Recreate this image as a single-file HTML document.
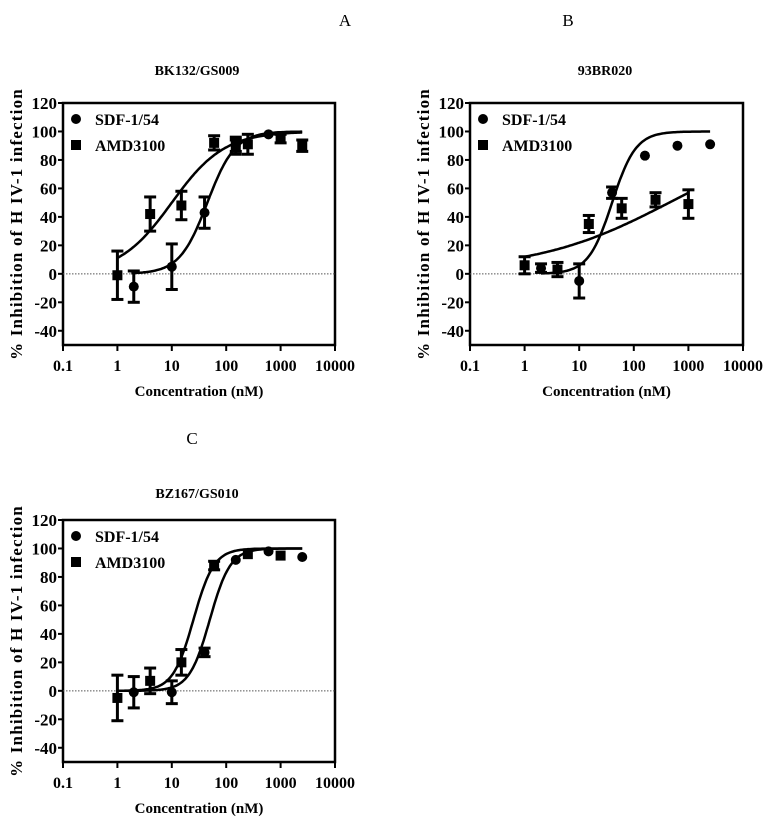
<!DOCTYPE html>
<html><head><meta charset="utf-8"><style>
body{margin:0;background:#fff}
svg text{font-family:"Liberation Serif",serif;fill:#000}
</style></head><body>
<svg id="fig" width="773" height="833" viewBox="0 0 773 833" xmlns="http://www.w3.org/2000/svg"></svg>
<script>
// Panel A
const aSdfX=[2,10,40,150,600];
const aSdfY=[-9,5,43,90,98];
const aSdfE=[11,16,11,4,2];
const aAmdX=[1,4,15,60,150,250,1000,2500];
const aAmdY=[-1,42,48,92,90,91,95,90];
const aAmdE=[17,12,10,5,6,7,3,4];
const aSdfFit=[0,100,45,1.7];
const aAmdFit=[0,100,10,0.9];
// Panel B
const bSdfX=[2,10,40,160,630,2500];
const bSdfY=[4,-5,57,83,90,91];
const bSdfE=[3,12,4,2,2,2];
const bAmdX=[1,4,15,60,250,1000];
const bAmdY=[6,3,35,46,52,49];
const bAmdE=[6,5,6,7,5,10];
const bSdfFit=[0,100,40,2];
const bAmdFit=[2,100,500,0.35];
// Panel C
const cSdfX=[2,10,40,150,600,2500];
const cSdfY=[-1,-1,27,92,98,94];
const cSdfE=[11,8,3,2,2,2];
const cAmdX=[1,4,15,60,250,1000];
const cAmdY=[-5,7,20,88,96,95];
const cAmdE=[16,9,9,3,2,2];
const cSdfFit=[0,100,50,2.3];
const cAmdFit=[0,100,25,2.3];
const yTicks=[120,100,80,60,40,20,0,-20,-40];
const xTicks=["0.1","1","10","100","1000","10000"];

const NS="http://www.w3.org/2000/svg";
const svg=document.getElementById('fig');
function mk(tag,attrs,parent,name){const e=document.createElementNS(NS,tag);for(const k in attrs)e.setAttribute(k,attrs[k]);


(parent||svg).appendChild(e);return e;}
function txt(x,y,s,attrs,parent,name){const t=mk('text',Object.assign({x:x,y:y},attrs),parent,name);t.textContent=s;return t;}
function fpl(p,x){return p[0]+(p[1]-p[0])/(1+Math.pow(p[2]/x,p[3]));}

function panel(id,L,R,T,B,letter,lx,ly,title,tx,ty,sd,amd,xmin1,xmax1,xmin2,xmax2){
  const g=mk('g',{},svg,'panel-'+id);
  const X=v=>L+(Math.log10(v)+1)*(R-L)/5;
  const Y=v=>B-(v+50)*(B-T)/170;
  txt(lx,ly,letter,{'font-size':17,'text-anchor':'middle'},g,'panel-letter');
  txt(tx,ty,title,{'font-size':14,'font-weight':'bold','text-anchor':'middle'},g,'panel-title');
  mk('rect',{x:L,y:T,width:R-L,height:B-T,fill:'none',stroke:'#000','stroke-width':2.5},g,'plot-frame');
  mk('line',{x1:L,x2:R,y1:Y(0),y2:Y(0),stroke:'#555','stroke-width':1,'stroke-dasharray':'1.5,1.5'},g,'zero-line');
  yTicks.forEach(v=>{mk('line',{x1:L-5,x2:L,y1:Y(v),y2:Y(v),stroke:'#000','stroke-width':2},g,'y-tick');
    txt(L-6,Y(v)+6,String(v),{'font-size':17,'font-weight':'bold','text-anchor':'end'},g,'y-tick-label');});
  xTicks.forEach((s,i)=>{const x=L+i*(R-L)/5;mk('line',{x1:x,x2:x,y1:B,y2:B+6,stroke:'#000','stroke-width':2},g,'x-tick');
    txt(x,B+26,s,{'font-size':16,'font-weight':'bold','text-anchor':'middle'},g,'x-tick-label');});
  txt((L+R)/2,B+51,'Concentration (nM)',{'font-size':15,'font-weight':'bold','text-anchor':'middle'},g,'x-axis-title');
  const yl=txt(0,0,'% Inhibition of H IV-1 infection',{'font-size':17,'font-weight':'bold','text-anchor':'middle','letter-spacing':'1.2',transform:`translate(${L-41},${(T+B)/2}) rotate(-90)`},g,'y-axis-title');
  function curve(p,a,b,name){let d='';for(let i=0;i<=120;i++){const lv=Math.log10(a)+(Math.log10(b)-Math.log10(a))*i/120;const v=Math.pow(10,lv);d+=(i?'L':'M')+X(v).toFixed(1)+','+Y(fpl(p,v)).toFixed(1);}
    mk('path',{d:d,fill:'none',stroke:'#000','stroke-width':2.5},g,name);}
  curve(sd[3],xmin1,xmax1,'sdf-fit-curve');curve(amd[3],xmin2,xmax2,'amd-fit-curve');
  function pts(xs,ys,es,sq,name){xs.forEach((xv,i)=>{const x=X(xv),y=Y(ys[i]),e=es[i]*(B-T)/170;
    if(es[i]>2.5){mk('line',{x1:x,x2:x,y1:y-e,y2:y+e,stroke:'#000','stroke-width':3},g,name+'-error-bar');
      [y-e,y+e].forEach(yy=>mk('line',{x1:x-6,x2:x+6,y1:yy,y2:yy,stroke:'#000','stroke-width':3},g,name+'-error-cap'));}
    if(sq)mk('rect',{x:x-5,y:y-5,width:10,height:10,fill:'#000'},g,name+'-point');
    else mk('circle',{cx:x,cy:y,r:5,fill:'#000'},g,name+'-point');});}
  pts(sd[0],sd[1],sd[2],false,'sdf');pts(amd[0],amd[1],amd[2],true,'amd');
  mk('circle',{cx:L+13,cy:T+16,r:5,fill:'#000'},g,'legend-sdf-marker');
  txt(L+32,T+22,'SDF-1/54',{'font-size':16,'font-weight':'bold'},g,'legend-sdf-label');
  mk('rect',{x:L+8,y:T+37,width:10,height:10,fill:'#000'},g,'legend-amd-marker');
  txt(L+32,T+48,'AMD3100',{'font-size':16,'font-weight':'bold'},g,'legend-amd-label');
}
panel('a',63,335,103,345,'A',345,26,'BK132/GS009',197,75,[aSdfX,aSdfY,aSdfE,aSdfFit],[aAmdX,aAmdY,aAmdE,aAmdFit],1.8,2500,1,2500);
panel('b',470,743,103,345,'B',568,26,'93BR020',605,75,[bSdfX,bSdfY,bSdfE,bSdfFit],[bAmdX,bAmdY,bAmdE,bAmdFit],2,2500,1,1000);
panel('c',63,335,520,762,'C',192,444,'BZ167/GS010',197,498,[cSdfX,cSdfY,cSdfE,cSdfFit],[cAmdX,cAmdY,cAmdE,cAmdFit],1,2500,1,2500);
</script>
</body></html>
